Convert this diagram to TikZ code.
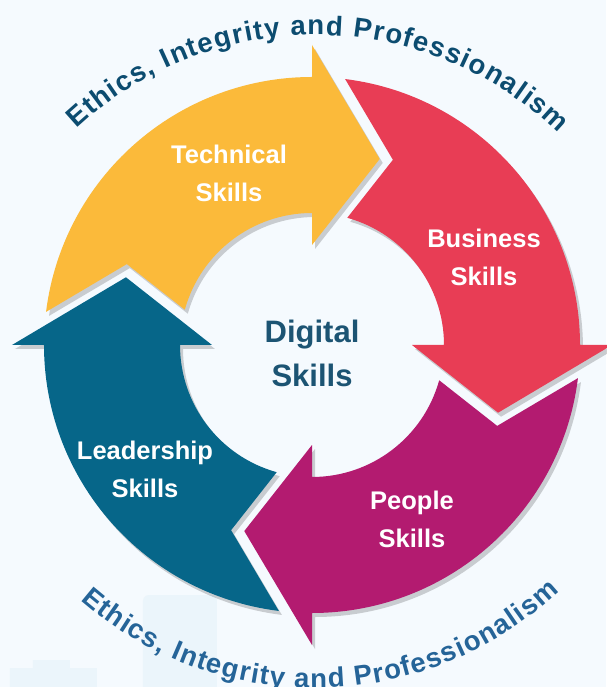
\documentclass[tikz,border=0pt]{standalone}
\usepackage{fontspec}
\setmainfont{Liberation Sans}
\usetikzlibrary{decorations.text}

\definecolor{bgcol}{RGB}{245,250,254}
\definecolor{techcol}{RGB}{251,186,58}
\definecolor{buscol}{RGB}{232,61,85}
\definecolor{peoplecol}{RGB}{179,27,112}
\definecolor{leadcol}{RGB}{6,102,137}
\definecolor{digitcol}{RGB}{28,84,115}
\definecolor{ethictop}{RGB}{12,76,112}
\definecolor{ethicbot}{RGB}{37,100,152}
\definecolor{housecol}{RGB}{235,245,251}

% one curved arrow, head base at angle #1
\newcommand{\skillarrow}[1]{%
  ({#1+82.9}:268) arc[start angle={#1+82.9}, end angle={#1}, radius=268]
  -- (#1:300) -- ({#1-20}:198) -- (#1:100) -- (#1:132)
  arc[start angle={#1}, end angle={#1+74.5}, radius=132]
  -- ({#1+66.4}:202.1) -- cycle}

\begin{document}
\begin{tikzpicture}[x=1pt, y=1pt,
    skill/.style={text=white, align=center, font=\fontsize{25.5}{38}\selectfont\bfseries},
    shadowfill/.style={fill=black, opacity=0.18},
    ethics/.style={decorate, decoration={text along path, text align={fit to path}, text color=#1,
        text={|\fontsize{27.5}{28}\selectfont\bfseries|Ethics, Integrity and Professionalism}}},
    ]
    \useasboundingbox[fill=bgcol] (-312,-342) rectangle (294,345);

    % faint buildings
    \fill[housecol, rounded corners=6] (-169,-360) rectangle (-95,-250);
    \fill[housecol] (-302,-342) rectangle (-215,-323) (-279,-323) rectangle (-242,-315);

    % Arrows
    \foreach \ang in {180,90,0,-90}
        \fill[shadowfill, shift={(3,-4)}] \skillarrow{\ang};
    \foreach \ang/\col in {180/leadcol, 90/techcol, 0/buscol, -90/peoplecol}
        \fill[\col] \skillarrow{\ang};

    % Labels
    \node[skill] (tech) at (-83,172) {Technical\\Skills};
    \node[skill] (bus) at (172,88) {Business\\Skills};
    \node[skill] (people) at (100,-174) {People\\Skills};
    \node[skill] (lead) at (-167,-124) {Leadership\\Skills};
    \node[text=digitcol, align=center, font=\fontsize{31}{44}\selectfont\bfseries] (digital) at (0,-8) {Digital\\Skills};

    % Ethics text
    \path[ethics=ethictop] ([shift={(3,-40)}]133:350) arc[start angle=133, end angle=46, radius=350];
    \path[ethics=ethicbot] ([shift={(3,15)}]229:358) arc[start angle=229, end angle=313, radius=358];
\end{tikzpicture}
\end{document}
